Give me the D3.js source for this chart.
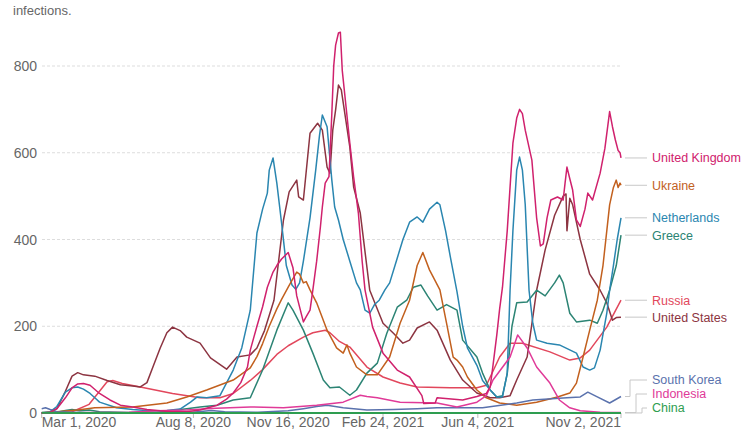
<!DOCTYPE html>
<html>
<head>
<meta charset="utf-8">
<script src="https://cdn.jsdelivr.net/npm/d3@7"></script>
<style>
    body { margin: 0; background: #fff; }
    svg text { font-family: "Liberation Sans", Arial, sans-serif; }
</style>
</head>
<body>
<svg id="chart" width="750" height="430"></svg>
<script>

// Daily new confirmed cases per million, 7-day average
const unitedKingdom = [
    ["2020-03-01", 0.3], ["2020-03-10", 2], ["2020-03-17", 10], ["2020-03-26", 35], ["2020-04-02", 58],
    ["2020-04-08", 67], ["2020-04-14", 68], ["2020-04-21", 64], ["2020-05-01", 45], ["2020-05-12", 30],
    ["2020-05-23", 18], ["2020-06-05", 14], ["2020-06-20", 8], ["2020-07-04", 5], ["2020-07-17", 3],
    ["2020-08-01", 3], ["2020-08-15", 7], ["2020-09-02", 18], ["2020-09-12", 32], ["2020-09-19", 46],
    ["2020-09-27", 70], ["2020-10-04", 106], ["2020-10-07", 145], ["2020-10-14", 200], ["2020-10-20", 245],
    ["2020-10-25", 290], ["2020-10-31", 325], ["2020-11-04", 340], ["2020-11-09", 355], ["2020-11-16", 370],
    ["2020-11-21", 335], ["2020-11-25", 270], ["2020-12-02", 210], ["2020-12-05", 222], ["2020-12-09", 237],
    ["2020-12-12", 284], ["2020-12-16", 350], ["2020-12-20", 430], ["2020-12-22", 475], ["2020-12-25", 530],
    ["2020-12-29", 545], ["2021-01-01", 690], ["2021-01-03", 800], ["2021-01-05", 848], ["2021-01-08", 876],
    ["2021-01-10", 878], ["2021-01-12", 790], ["2021-01-16", 706], ["2021-01-20", 622], ["2021-01-24", 544],
    ["2021-01-29", 461], ["2021-02-02", 350], ["2021-02-05", 284], ["2021-02-13", 198], ["2021-02-24", 138],
    ["2021-03-11", 99], ["2021-03-24", 83], ["2021-04-06", 40], ["2021-04-08", 22], ["2021-04-20", 23],
    ["2021-04-22", 35], ["2021-05-19", 30], ["2021-06-03", 38], ["2021-06-13", 45], ["2021-06-17", 60],
    ["2021-06-20", 110], ["2021-06-24", 180], ["2021-06-27", 240], ["2021-06-30", 290], ["2021-07-05", 420],
    ["2021-07-11", 622], ["2021-07-15", 680], ["2021-07-18", 700], ["2021-07-21", 690], ["2021-07-24", 652],
    ["2021-07-31", 583], ["2021-08-05", 450], ["2021-08-09", 385], ["2021-08-12", 390], ["2021-08-16", 450],
    ["2021-08-20", 491], ["2021-08-27", 498], ["2021-09-02", 491], ["2021-09-04", 530], ["2021-09-06", 567],
    ["2021-09-09", 540], ["2021-09-12", 514], ["2021-09-16", 445], ["2021-09-20", 430], ["2021-09-25", 470],
    ["2021-09-28", 507], ["2021-10-03", 491], ["2021-10-11", 553], ["2021-10-16", 610], ["2021-10-21", 695],
    ["2021-10-24", 660], ["2021-10-27", 630], ["2021-10-30", 605], ["2021-11-01", 600], ["2021-11-02", 588]
];

const ukraine = [
    ["2020-03-01", 0], ["2020-04-08", 7], ["2020-04-26", 12], ["2020-06-05", 14], ["2020-07-11", 23],
    ["2020-08-01", 37], ["2020-08-22", 53], ["2020-09-19", 76], ["2020-10-07", 104], ["2020-10-14", 130],
    ["2020-10-20", 160], ["2020-10-27", 200], ["2020-11-04", 240], ["2020-11-09", 262], ["2020-11-16", 290],
    ["2020-11-21", 310], ["2020-11-25", 325], ["2020-11-28", 320], ["2020-12-02", 300], ["2020-12-05", 303],
    ["2020-12-09", 284], ["2020-12-16", 254], ["2020-12-27", 191], ["2021-01-06", 150], ["2021-01-13", 138],
    ["2021-01-17", 157], ["2021-01-20", 138], ["2021-01-27", 106], ["2021-02-07", 88], ["2021-02-18", 88],
    ["2021-03-03", 129], ["2021-03-14", 207], ["2021-03-24", 260], ["2021-04-01", 340], ["2021-04-07", 370],
    ["2021-04-14", 330], ["2021-04-25", 284], ["2021-05-02", 207], ["2021-05-09", 129], ["2021-05-13", 122],
    ["2021-05-19", 106], ["2021-05-24", 83], ["2021-06-03", 53], ["2021-06-13", 35], ["2021-06-27", 23],
    ["2021-07-15", 18], ["2021-08-05", 25], ["2021-08-27", 37], ["2021-09-09", 46], ["2021-09-16", 69],
    ["2021-09-23", 129], ["2021-09-30", 191], ["2021-10-08", 260], ["2021-10-14", 340], ["2021-10-18", 420],
    ["2021-10-21", 480], ["2021-10-25", 520], ["2021-10-28", 537], ["2021-10-30", 520], ["2021-11-01", 530],
    ["2021-11-02", 525]
];

const netherlands = [
    ["2020-03-01", 0.5], ["2020-03-10", 3], ["2020-03-17", 15], ["2020-03-26", 48], ["2020-04-02", 58],
    ["2020-04-08", 60], ["2020-04-14", 55], ["2020-04-21", 45], ["2020-04-26", 35], ["2020-05-01", 25],
    ["2020-05-19", 12], ["2020-06-05", 8], ["2020-06-23", 5], ["2020-07-11", 6], ["2020-07-25", 9],
    ["2020-08-05", 25], ["2020-08-12", 37], ["2020-08-22", 35], ["2020-09-05", 40], ["2020-09-19", 99],
    ["2020-09-28", 150], ["2020-10-07", 237], ["2020-10-14", 415], ["2020-10-20", 470], ["2020-10-25", 507],
    ["2020-10-27", 560], ["2020-10-31", 588], ["2020-11-04", 530], ["2020-11-09", 438], ["2020-11-14", 340],
    ["2020-11-20", 295], ["2020-11-24", 285], ["2020-11-28", 300], ["2020-12-02", 350], ["2020-12-09", 450],
    ["2020-12-15", 560], ["2020-12-19", 640], ["2020-12-22", 687], ["2020-12-27", 660], ["2021-01-01", 537],
    ["2021-01-04", 475], ["2021-01-08", 445], ["2021-01-13", 400], ["2021-01-20", 350], ["2021-01-27", 300],
    ["2021-01-31", 284], ["2021-02-05", 237], ["2021-02-10", 230], ["2021-02-15", 250], ["2021-02-20", 260],
    ["2021-02-26", 284], ["2021-03-03", 300], ["2021-03-10", 350], ["2021-03-17", 400], ["2021-03-24", 440],
    ["2021-04-01", 452], ["2021-04-07", 440], ["2021-04-14", 470], ["2021-04-22", 486], ["2021-04-25", 480],
    ["2021-05-01", 420], ["2021-05-06", 360], ["2021-05-13", 280], ["2021-05-19", 200], ["2021-05-24", 150],
    ["2021-06-03", 110], ["2021-06-09", 75], ["2021-06-17", 53], ["2021-06-24", 37], ["2021-06-30", 37],
    ["2021-07-05", 92], ["2021-07-08", 283], ["2021-07-11", 420], ["2021-07-15", 560], ["2021-07-18", 590],
    ["2021-07-21", 560], ["2021-07-24", 480], ["2021-07-28", 283], ["2021-08-01", 207], ["2021-08-05", 168],
    ["2021-08-16", 161], ["2021-08-29", 157], ["2021-09-16", 138], ["2021-09-23", 106], ["2021-09-30", 99],
    ["2021-10-05", 104], ["2021-10-11", 145], ["2021-10-18", 230], ["2021-10-21", 283], ["2021-10-25", 340],
    ["2021-10-29", 400], ["2021-11-02", 450]
];

const greece = [
    ["2020-03-01", 0], ["2020-03-17", 2], ["2020-03-26", 6], ["2020-04-02", 8], ["2020-04-10", 5],
    ["2020-04-20", 7], ["2020-05-01", 3], ["2020-06-01", 1], ["2020-07-01", 2], ["2020-08-01", 10],
    ["2020-08-15", 14], ["2020-09-02", 18], ["2020-09-19", 30], ["2020-10-07", 35], ["2020-10-20", 99],
    ["2020-11-04", 191], ["2020-11-16", 254], ["2020-11-21", 237], ["2020-12-02", 191], ["2020-12-12", 138],
    ["2020-12-23", 76], ["2020-12-30", 58], ["2021-01-09", 60], ["2021-01-20", 41], ["2021-01-27", 53],
    ["2021-02-07", 92], ["2021-02-18", 115], ["2021-02-28", 184], ["2021-03-11", 244], ["2021-03-21", 260],
    ["2021-03-28", 290], ["2021-04-05", 295], ["2021-04-12", 270], ["2021-04-22", 237], ["2021-05-02", 250],
    ["2021-05-13", 237], ["2021-05-19", 168], ["2021-06-03", 129], ["2021-06-09", 92], ["2021-06-17", 53],
    ["2021-06-24", 37], ["2021-06-30", 40], ["2021-07-05", 90], ["2021-07-10", 200], ["2021-07-15", 254],
    ["2021-07-26", 256], ["2021-08-05", 283], ["2021-08-14", 270], ["2021-08-24", 300], ["2021-08-29", 318],
    ["2021-09-02", 300], ["2021-09-09", 230], ["2021-09-16", 210], ["2021-09-30", 214], ["2021-10-08", 207],
    ["2021-10-14", 237], ["2021-10-21", 283], ["2021-10-28", 340], ["2021-11-02", 410]
];

const russia = [
    ["2020-03-01", 0], ["2020-04-02", 3], ["2020-04-20", 20], ["2020-05-01", 50], ["2020-05-09", 72],
    ["2020-05-15", 75], ["2020-05-25", 68], ["2020-06-13", 60], ["2020-07-17", 45], ["2020-08-15", 35],
    ["2020-09-05", 35], ["2020-09-19", 45], ["2020-10-07", 75], ["2020-10-20", 100], ["2020-11-04", 135],
    ["2020-11-16", 155], ["2020-12-02", 175], ["2020-12-12", 185], ["2020-12-25", 191], ["2020-12-30", 185],
    ["2021-01-09", 165], ["2021-01-20", 152], ["2021-02-07", 106], ["2021-02-24", 83], ["2021-03-14", 69],
    ["2021-04-01", 60], ["2021-05-06", 58], ["2021-06-03", 58], ["2021-06-13", 64], ["2021-06-27", 129],
    ["2021-07-08", 161], ["2021-07-21", 161], ["2021-08-19", 141], ["2021-09-09", 122], ["2021-09-20", 127],
    ["2021-09-30", 145], ["2021-10-18", 198], ["2021-11-02", 260]
];

const unitedStates = [
    ["2020-03-01", 0], ["2020-03-10", 1], ["2020-03-17", 10], ["2020-03-26", 50], ["2020-04-02", 85],
    ["2020-04-08", 93], ["2020-04-14", 88], ["2020-04-26", 85], ["2020-05-09", 75], ["2020-05-23", 65],
    ["2020-06-05", 62], ["2020-06-13", 60], ["2020-06-20", 70], ["2020-06-27", 110], ["2020-07-04", 150],
    ["2020-07-11", 185], ["2020-07-17", 198], ["2020-07-25", 190], ["2020-08-01", 175], ["2020-08-15", 161],
    ["2020-08-26", 127], ["2020-09-12", 101], ["2020-09-23", 129], ["2020-10-07", 134], ["2020-10-14", 150],
    ["2020-10-22", 190], ["2020-11-01", 260], ["2020-11-11", 445], ["2020-11-17", 510], ["2020-11-25", 537],
    ["2020-11-27", 498], ["2020-12-02", 491], ["2020-12-09", 645], ["2020-12-17", 668], ["2020-12-22", 652],
    ["2020-12-27", 567], ["2020-12-30", 553], ["2021-01-02", 652], ["2021-01-05", 699], ["2021-01-08", 756],
    ["2021-01-11", 745], ["2021-01-20", 613], ["2021-01-24", 521], ["2021-01-31", 461], ["2021-02-10", 283],
    ["2021-02-24", 207], ["2021-03-07", 184], ["2021-03-17", 161], ["2021-03-24", 168], ["2021-04-01", 196],
    ["2021-04-14", 210], ["2021-04-22", 191], ["2021-05-06", 122], ["2021-05-19", 76], ["2021-06-03", 46],
    ["2021-06-17", 35], ["2021-06-27", 35], ["2021-07-08", 40], ["2021-07-15", 76], ["2021-07-26", 129],
    ["2021-08-01", 221], ["2021-08-05", 283], ["2021-08-14", 376], ["2021-08-24", 456], ["2021-09-02", 500],
    ["2021-09-05", 505], ["2021-09-06", 420], ["2021-09-09", 495], ["2021-09-12", 480], ["2021-09-20", 400],
    ["2021-09-30", 320], ["2021-10-11", 283], ["2021-10-18", 254], ["2021-10-24", 214], ["2021-10-28", 220],
    ["2021-11-02", 221]
];

const southKorea = [
    ["2020-03-01", 10], ["2020-03-05", 12], ["2020-03-10", 8], ["2020-03-17", 3], ["2020-04-01", 2],
    ["2020-05-01", 0.3], ["2020-06-01", 0.8], ["2020-07-01", 1], ["2020-08-01", 0.8], ["2020-08-27", 6],
    ["2020-09-10", 3], ["2020-10-15", 1.5], ["2020-11-16", 5], ["2020-12-02", 10], ["2020-12-16", 15],
    ["2020-12-27", 18], ["2021-01-13", 12], ["2021-02-07", 7], ["2021-03-07", 8], ["2021-04-01", 10],
    ["2021-04-22", 12], ["2021-06-09", 12], ["2021-07-15", 23], ["2021-08-01", 30], ["2021-09-06", 35],
    ["2021-09-20", 37], ["2021-09-28", 48], ["2021-10-08", 37], ["2021-10-21", 23], ["2021-11-02", 38]
];

const indonesia = [
    ["2020-03-01", 0], ["2020-04-01", 0.3], ["2020-05-01", 1], ["2020-06-01", 2], ["2020-07-01", 5],
    ["2020-08-01", 7], ["2020-09-01", 11], ["2020-10-07", 14], ["2020-11-11", 12], ["2020-12-16", 18],
    ["2021-01-13", 25], ["2021-01-31", 41], ["2021-02-07", 38], ["2021-02-18", 35], ["2021-03-14", 25],
    ["2021-04-22", 23], ["2021-05-13", 14], ["2021-06-03", 25], ["2021-06-13", 40], ["2021-06-20", 76],
    ["2021-07-08", 129], ["2021-07-16", 180], ["2021-07-26", 150], ["2021-08-05", 106], ["2021-08-19", 69],
    ["2021-08-29", 30], ["2021-09-09", 12], ["2021-09-20", 5], ["2021-10-11", 2], ["2021-11-02", 1]
];

const china = [
    ["2020-03-01", 0.3], ["2020-03-20", 0.05], ["2021-01-15", 0.1], ["2021-11-02", 0.05]
];

const countries = ["United Kingdom", "Ukraine", "Netherlands", "Greece", "Russia",
    "United States", "South Korea", "Indonesia", "China"];
const countryValues = [unitedKingdom, ukraine, netherlands, greece, russia,
    unitedStates, southKorea, indonesia, china];

const yTicks = [0, 200, 400, 600, 800];
const xTickDates = ["2020-03-01", "2020-08-08", "2020-11-16", "2021-02-24", "2021-06-04", "2021-11-02"];
const xTickLabels = ["Mar 1, 2020", "Aug 8, 2020", "Nov 16, 2020", "Feb 24, 2021", "Jun 4, 2021", "Nov 2, 2021"];

const subtitleEnd = "infections.";

/**
 * Draws the cases-per-million line chart with labels at the line ends.
 */
class CasesChart {

    constructor() {
        this.svg = d3.select("#chart");
        this.parseDate = d3.timeParse("%Y-%m-%d");

        this.colors = {
            "United Kingdom": "#d0216d",
            "Ukraine": "#c2601e",
            "Netherlands": "#2a86b0",
            "Greece": "#2c8474",
            "Russia": "#e2475c",
            "United States": "#8c3441",
            "South Korea": "#5a72ad",
            "Indonesia": "#e03a98",
            "China": "#2e9d50"
        };

        this.xScale = d3.scaleTime()
            .domain([this.parseDate(xTickDates[0]), this.parseDate(xTickDates[xTickDates.length - 1])])
            .range([41.7, 621]);

        this.yScale = d3.scaleLinear()
            .domain([0, 800])
            .range([413, 66]);

        this.series = countries.map((name, i) => ({
            name: name,
            values: countryValues[i].map(d => ({ date: this.parseDate(d[0]), value: d[1] }))
        }));

        this.drawSubtitle();
        this.drawGrid();
        this.drawXAxis();
        this.drawLines();
        this.drawLabels();
    }

    drawSubtitle() {
        this.svg.append("text")
            .attr("x", 13)
            .attr("y", 15)
            .attr("font-size", 13)
            .attr("fill", "#666")
            .text(subtitleEnd);
    }

    drawGrid() {
        let grid = this.svg.append("g");

        grid.selectAll("line")
            .data(yTicks.filter(d => d > 0))
            .join("line")
            .attr("x1", 42)
            .attr("x2", this.xScale.range()[1])
            .attr("y1", d => this.yScale(d))
            .attr("y2", d => this.yScale(d))
            .attr("stroke", "#ddd")
            .attr("stroke-dasharray", "3,2");

        grid.selectAll("text")
            .data(yTicks)
            .join("text")
            .attr("x", 37)
            .attr("y", d => this.yScale(d))
            .attr("dy", "0.36em")
            .attr("text-anchor", "end")
            .attr("font-size", 14)
            .attr("fill", "#666")
            .text(d => d);
    }

    drawXAxis() {
        let axis = this.svg.append("g");
        let y0 = this.yScale(0);

        axis.append("line")
            .attr("x1", this.xScale.range()[0])
            .attr("x2", this.xScale.range()[1])
            .attr("y1", y0)
            .attr("y2", y0)
            .attr("stroke", "#aaa");

        let ticks = xTickDates.map((d, i) => ({ date: this.parseDate(d), label: xTickLabels[i], i: i }));

        axis.selectAll("line.tick")
            .data(ticks)
            .join("line")
            .attr("class", "tick")
            .attr("x1", d => this.xScale(d.date))
            .attr("x2", d => this.xScale(d.date))
            .attr("y1", y0)
            .attr("y2", y0 + 5)
            .attr("stroke", "#bbb");

        // first label hangs right of its tick, last one left of it
        axis.selectAll("text")
            .data(ticks)
            .join("text")
            .attr("x", d => this.xScale(d.date))
            .attr("y", 427)
            .attr("font-size", 14)
            .attr("fill", "#666")
            .attr("text-anchor", d => d.i === 0 ? "start" : (d.i === ticks.length - 1 ? "end" : "middle"))
            .text(d => d.label);
    }

    drawLines() {
        let line = d3.line()
            .x(d => this.xScale(d.date))
            .y(d => this.yScale(d.value));

        // draw order so the low lines and the UK peaks sit on top
        let order = ["Russia", "United States", "Greece", "Netherlands", "Ukraine",
            "South Korea", "Indonesia", "United Kingdom", "China"];

        this.svg.append("g")
            .selectAll("path")
            .data(order.map(n => this.series.find(s => s.name === n)))
            .join("path")
            .attr("d", d => line(d.values))
            .attr("fill", "none")
            .attr("stroke", d => this.colors[d.name])
            .attr("stroke-width", d => d.name === "China" ? 2 : 1.5)
            .attr("stroke-linejoin", "round");
    }

    /**
     * Places labels at the line ends, pushing crowded ones up from the bottom.
     */
    drawLabels() {
        let xEnd = this.xScale.range()[1];
        let items = this.series.map(s => {
            let last = s.values[s.values.length - 1];
            let y = this.yScale(last.value);
            return { name: s.name, yEnd: y, yLabel: y };
        });

        items.sort((a, b) => b.yEnd - a.yEnd);
        let limit = 408;
        items.forEach(d => {
            d.yLabel = Math.min(d.yLabel, limit);
            limit = d.yLabel - 14;
        });
        items.reverse();

        let bent = items.filter(d => Math.abs(d.yLabel - d.yEnd) > 1.5);
        bent.forEach((d, i) => d.elbow = xEnd + 9 + i * 6);

        let g = this.svg.append("g");

        g.selectAll("path")
            .data(items)
            .join("path")
            .attr("d", d => d.elbow === undefined
                ? `M${xEnd + 4},${d.yLabel}H${xEnd + 26}`
                : `M${xEnd + 4},${d.yEnd}H${d.elbow}V${d.yLabel}H${xEnd + 26}`)
            .attr("fill", "none")
            .attr("stroke", "#c8c8c8");

        g.selectAll("text")
            .data(items)
            .join("text")
            .attr("x", xEnd + 31)
            .attr("y", d => d.yLabel)
            .attr("dy", "0.35em")
            .attr("font-size", 12.5)
            .attr("fill", d => this.colors[d.name])
            .text(d => d.name);
    }
}

new CasesChart();
</script>
</body>
</html>
